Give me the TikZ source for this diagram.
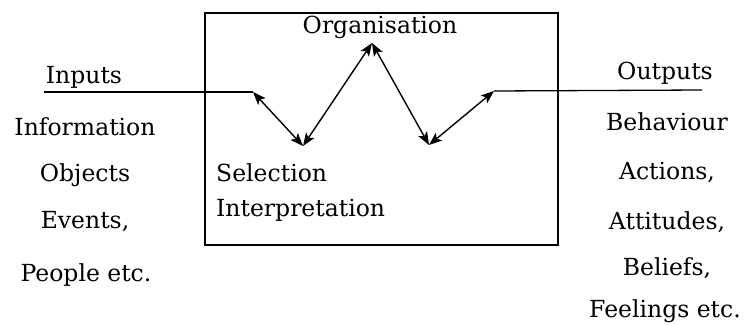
\documentclass[tikz,border=0pt]{standalone}
\usepackage{fontspec}
\setmainfont{DejaVu Serif}
\usepackage{tikz}
\usetikzlibrary{arrows.meta,positioning}
\tikzset{
  >={Stealth[length=13pt,width=10pt,inset=3pt]},
  % ramme og linjer
  frame/.style={draw=black,line width=1.3pt},
  wire/.style={draw=black,line width=1.3pt},
  flow/.style={<->,draw=black,line width=1.4pt},
  % tekster
  lbl/.style={font=\fontsize{23.5}{28}\selectfont,inner sep=0pt},
  lblw/.style={lbl,anchor=west},
}
\begin{document}
\begin{tikzpicture}[x=1pt,y=-1pt]
\useasboundingbox (0,0) rectangle (744,324);
  % boksen
  \node[frame,minimum width=353pt,minimum height=232pt,inner sep=0pt] (box) at (381.5,129) {};
  % punkter på sikksakken
  \coordinate (inL) at (44,92);
  \coordinate (inR) at (253,92);
  \coordinate (sel) at (303,146);
  \coordinate (org) at (372,43);
  \coordinate (intp) at (429,145);
  \coordinate (outL) at (494,91);
  \coordinate (outR) at (702,90);
  \draw[wire] (inL) -- (inR);
  \draw[flow] (inR) -- (sel);
  \draw[flow] (sel) -- (org);
  \draw[flow] (org) -- (intp);
  \draw[flow] (intp) -- (outL);
  \draw[wire] (outL) -- (outR);
  % tekst i boksen
  \node[lbl] (organisation) at (380,27) {Organisation};
  \node[lblw] (selection) at (216,173) {Selection};
  \node[lblw] (interpretation) at (216,210) {Interpretation};
  % inputs
  \node[lbl] (inputs) at (84,77) {Inputs};
  \node[lbl] (information) at (85,127) {Information};
  \node[lbl] (objects) at (85,175) {Objects};
  \node[lbl] (events) at (85,222) {Events,};
  \node[lbl] (people) at (86,275) {People etc.};
  % outputs
  \node[lbl] (outputs) at (665,73) {Outputs};
  \node[lbl] (behaviour) at (667,122) {Behaviour};
  \node[lbl] (actions) at (667,172) {Actions,};
  \node[lbl] (attitudes) at (667,222) {Attitudes,};
  \node[lbl] (beliefs) at (667,268) {Beliefs,};
  \node[lbl] (feelings) at (665,311) {Feelings etc.};
\end{tikzpicture}
\end{document}
